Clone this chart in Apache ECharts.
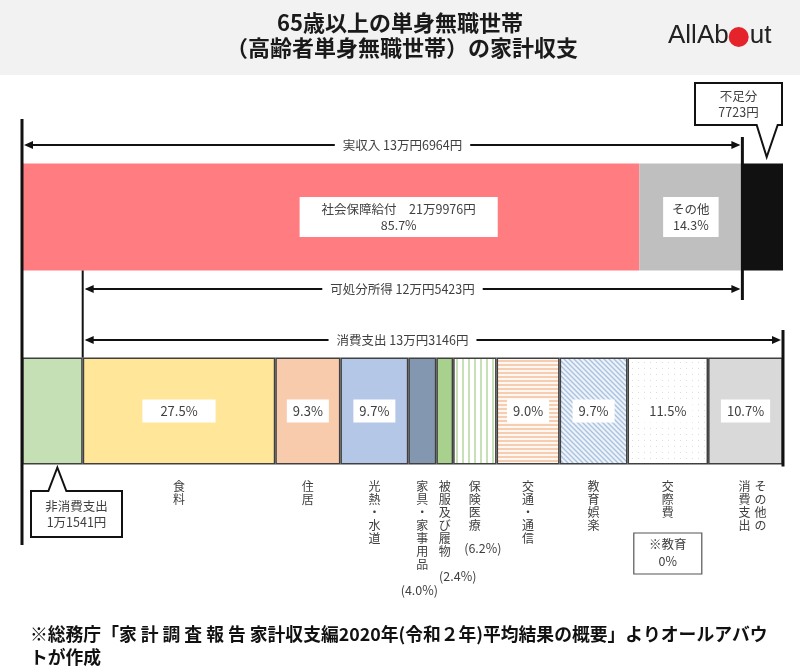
<!DOCTYPE html>
<html>
<head>
<meta http-equiv="Content-Type" content="text/html; charset=utf-8">
<script type="text/javascript" src="https://cdn.jsdelivr.net/npm/echarts@6/dist/echarts.min.js"></script>
<style>
    html, body { margin: 0; padding: 0; background: #fff; }
    #main { width: 800px; height: 671px; }
</style>
</head>
<body>
<div id="main"></div>
<script type="text/javascript">
// ---- data ----
var rows = ['支出', '収入'];
var actualIncome = 136964;     // 実収入
var shortfall = 7723;          // 不足分
var incomeNames = ['社会保障給付', 'その他'];
var incomeShares = [85.7, 14.3];
var nonConsumption = 11541;    // 非消費支出
var consumption = 133146;      // 消費支出
var spendNames = ['食料', '住居', '光熱・水道', '家具・家事用品', '被服及び履物', '保険医療', '交通・通信', '教育娯楽', '交際費', 'その他の消費支出'];
var spendShares = [27.5, 9.3, 9.7, 4.0, 2.4, 6.2, 9.0, 9.7, 11.5, 10.7];
var titleLines = ['65歳以上の単身無職世帯', '（高齢者単身無職世帯）の家計収支'];
var footLines = ['※総務庁「家 計 調 査 報 告 家計収支編2020年(令和２年)平均結果の概要」よりオールアバウ', 'トが作成'];

var FONT = '"Noto Sans CJK JP", "Noto Sans", sans-serif';
var total = actualIncome + shortfall;

function makePattern(w, h, draw) {
    var c = document.createElement('canvas');
    c.width = w; c.height = h;
    draw(c.getContext('2d'), w, h);
    return { image: c, repeat: 'repeat' };
}
var pVert = makePattern(6, 6, function (g) {
    g.fillStyle = '#fff'; g.fillRect(0, 0, 6, 6);
    g.fillStyle = '#c8e0b6'; g.fillRect(0, 0, 2, 6);
});
var pHoriz = makePattern(4, 4, function (g) {
    g.fillStyle = '#fff8f2'; g.fillRect(0, 0, 4, 4);
    g.fillStyle = '#f6cdb0'; g.fillRect(0, 0, 4, 2);
});
var pDiag = makePattern(5, 5, function (g) {
    g.fillStyle = '#eef3fa'; g.fillRect(0, 0, 5, 5);
    g.strokeStyle = '#a9c2e0'; g.lineWidth = 1.4;
    g.beginPath();
    [-5, 0, 5].forEach(function (k) { g.moveTo(-1, -1 + k); g.lineTo(6, 6 + k); });
    g.stroke();
});
var pDots = makePattern(6, 6, function (g) {
    g.fillStyle = '#fff'; g.fillRect(0, 0, 6, 6);
    g.fillStyle = '#dedede'; g.fillRect(2, 2, 1, 1);
});

var incomeColors = ['#ff7c80', '#bfbfbf'];
var spendColors = ['#ffe699', '#f8cbad', '#b4c7e7', '#8497b0', '#a9d18e', pVert, pHoriz, pDiag, pDots, '#d9d9d9'];
var spendInside = [true, true, true, false, false, false, true, true, true, true];

var chart = echarts.init(document.getElementById('main'));
var series = [];
var BAR = 107;

incomeNames.forEach(function (n, i) {
    var lbl = i === 0
        ? { formatter: n + '　21万9976円\n' + incomeShares[i].toFixed(1) + '%', padding: [4, 22], offset: [68, 0] }
        : { formatter: n + '\n' + incomeShares[i].toFixed(1) + '%', padding: [4, 9] };
    series.push({
        name: n, type: 'bar', stack: 'all', barWidth: BAR,
        data: ['-', actualIncome * incomeShares[i] / 100],
        itemStyle: { color: incomeColors[i] },
        label: Object.assign({
            show: true, position: 'inside', backgroundColor: '#fff',
            color: '#404040', fontSize: 12.5, lineHeight: 16, fontFamily: FONT
        }, lbl)
    });
});
series.push({
    name: '不足分', type: 'bar', stack: 'all', barWidth: BAR,
    data: ['-', shortfall],
    itemStyle: { color: '#111' }
});
series.push({
    name: '非消費支出', type: 'bar', stack: 'all', barWidth: BAR,
    data: [nonConsumption, '-'],
    itemStyle: { color: '#c5e0b4', borderColor: '#404040', borderWidth: 1.5 }
});
spendNames.forEach(function (n, i) {
    series.push({
        name: n, type: 'bar', stack: 'all', barWidth: BAR,
        data: [consumption * spendShares[i] / 100, '-'],
        itemStyle: { color: spendColors[i], borderColor: '#404040', borderWidth: 1.5 },
        label: {
            show: spendInside[i], position: 'inside', backgroundColor: '#fff',
            padding: i === 0 ? [5, 18] : [5, 6], color: '#404040', fontSize: 13, fontFamily: FONT,
            formatter: spendShares[i].toFixed(1) + '%'
        }
    });
});

var option = {
    animation: false,
    grid: { left: 22, right: 17, top: 120, height: 388 },
    xAxis: { type: 'value', min: 0, max: total, show: false },
    yAxis: { type: 'category', data: rows, show: false },
    series: series
};
chart.setOption(option);

// ---- annotations placed from the axes ----
var px = function (v) { return chart.convertToPixel({ xAxisIndex: 0 }, v); };
var py = function (c) { return chart.convertToPixel({ yAxisIndex: 0 }, c); };
var incTop = py('収入') - BAR / 2, incBot = py('収入') + BAR / 2;
var spTop = py('支出') - BAR / 2, spBot = py('支出') + BAR / 2;
var x0 = px(0), xNon = px(nonConsumption), xInc = px(actualIncome), xEnd = px(total);
var xMid = (x0 + xEnd) / 2;

var g = [];
function ln(x1, y1, x2, y2, w) {
    return { type: 'line', z: 20, shape: { x1: x1, y1: y1, x2: x2, y2: y2 }, style: { stroke: '#111', lineWidth: w } };
}
function head(x, y, dir) {
    return { type: 'polygon', z: 20, shape: { points: [[x, y], [x - dir * 9, y - 4], [x - dir * 9, y + 4]] }, style: { fill: '#111' } };
}
function txt(x, y, s, extra) {
    return { type: 'text', z: 22, style: Object.assign({ x: x, y: y, text: s, font: '12.5px ' + FONT, fill: '#404040', align: 'center', verticalAlign: 'middle' }, extra || {}) };
}
function arrow(xa, xb, y, s) {
    g.push(ln(xa + 4, y, xb - 4, y, 2));
    g.push(head(xa + 2, y, -1));
    g.push(head(xb - 2, y, 1));
    g.push(txt(xMid, y, s, { backgroundColor: '#fff', padding: [2, 8] }));
}

// header
g.push({ type: 'rect', z: 0, shape: { x: 0, y: 0, width: 800, height: 75 }, style: { fill: '#f2f2f2' } });
g.push(txt(400, 23, titleLines[0], { font: 'bold 22px ' + FONT, fill: '#1a1a1a' }));
g.push(txt(402, 48, titleLines[1], { font: 'bold 22px ' + FONT, fill: '#1a1a1a' }));
// logo
var mctx = document.createElement('canvas').getContext('2d');
var logoFont = '26px "Liberation Sans", Arial, sans-serif';
mctx.font = logoFont;
var wA = mctx.measureText('AllAb').width;
g.push(txt(668, 36, 'AllAb', { font: logoFont, fill: '#222', align: 'left' }));
g.push({ type: 'circle', z: 22, shape: { cx: 668 + wA + 10, cy: 37, r: 10 }, style: { fill: '#e5232b' } });
g.push(txt(668 + wA + 21, 36, 'ut', { font: logoFont, fill: '#222', align: 'left' }));

// vertical rules
g.push(ln(x0, 119, x0, 545, 3));
g.push(ln(xNon, incBot, xNon, spTop, 2));
g.push(ln(xInc, 137, xInc, 300, 3));
g.push(ln(xEnd, 330, xEnd, spBot + 2, 3));

// span arrows
arrow(x0, xInc, 145, '実収入 13万円6964円');
arrow(xNon, xInc, 289, '可処分所得 12万円5423円');
arrow(xNon, xEnd, 340, '消費支出 13万円3146円');

// 不足分 callout
var tipX = (xInc + xEnd) / 2 + 4;
var bR = xEnd - 1, bL = xEnd - 88, bT = 83, bB = 125;
g.push({ type: 'polygon', z: 21, shape: { points: [[bL, bT], [bR, bT], [bR, bB], [tipX + 11, bB], [tipX, 157], [tipX - 10, bB], [bL, bB]] },
    style: { fill: '#fff', stroke: '#111', lineWidth: 2 } });
g.push(txt((bL + bR) / 2, 104, '不足分\n' + shortfall + '円', { lineHeight: 16 }));

// 非消費支出 callout
var tipN = (x0 + xNon) / 2 + 5;
var nL = x0 + 9, nR = x0 + 100, nT = 491, nB = 537;
g.push({ type: 'polygon', z: 21, shape: { points: [[nL, nT], [tipN - 9, nT], [tipN, spBot + 3], [tipN + 9, nT], [nR, nT], [nR, nB], [nL, nB]] },
    style: { fill: '#fff', stroke: '#111', lineWidth: 2 } });
g.push(txt((nL + nR) / 2, 514, '非消費支出\n1万1541円', { lineHeight: 16 }));

// category names (vertical) under the bar
var noteLayout = { 3: { dx: -3, y: 590 }, 4: { dx: 13, y: 576 }, 5: { dx: 8, y: 548 } };
var cum = nonConsumption;
spendNames.forEach(function (n, i) {
    var v = consumption * spendShares[i] / 100;
    var cx = px(cum + v / 2);
    cum += v;
    var cols = n === 'その他の消費支出' ? ['その他の', '消費支出'] : [n];
    cols.forEach(function (c, k) {
        var x = cols.length > 1 ? cx + 15 - 16 * k : cx;
        g.push(txt(x, 480, c.split('').join('\n'), { font: '12px ' + FONT, lineHeight: 13, verticalAlign: 'top' }));
    });
    if (noteLayout[i]) {
        g.push(txt(cx + noteLayout[i].dx, noteLayout[i].y, '(' + spendShares[i].toFixed(1) + '%)', { font: '12.5px ' + FONT }));
    }
    if (n === '交際費') {
        g.push({ type: 'rect', z: 21, shape: { x: cx - 34, y: 533, width: 68, height: 41 }, style: { fill: '#fff', stroke: '#555', lineWidth: 1.2 } });
        g.push(txt(cx, 553, '※教育\n0%', { lineHeight: 17 }));
    }
});

// footnote
g.push(txt(30, 623, footLines.join('\n'), { font: 'bold 17.8px ' + FONT, fill: '#111', align: 'left', verticalAlign: 'top', lineHeight: 23 }));

chart.setOption({ graphic: { elements: g } });
</script>
</body>
</html>
